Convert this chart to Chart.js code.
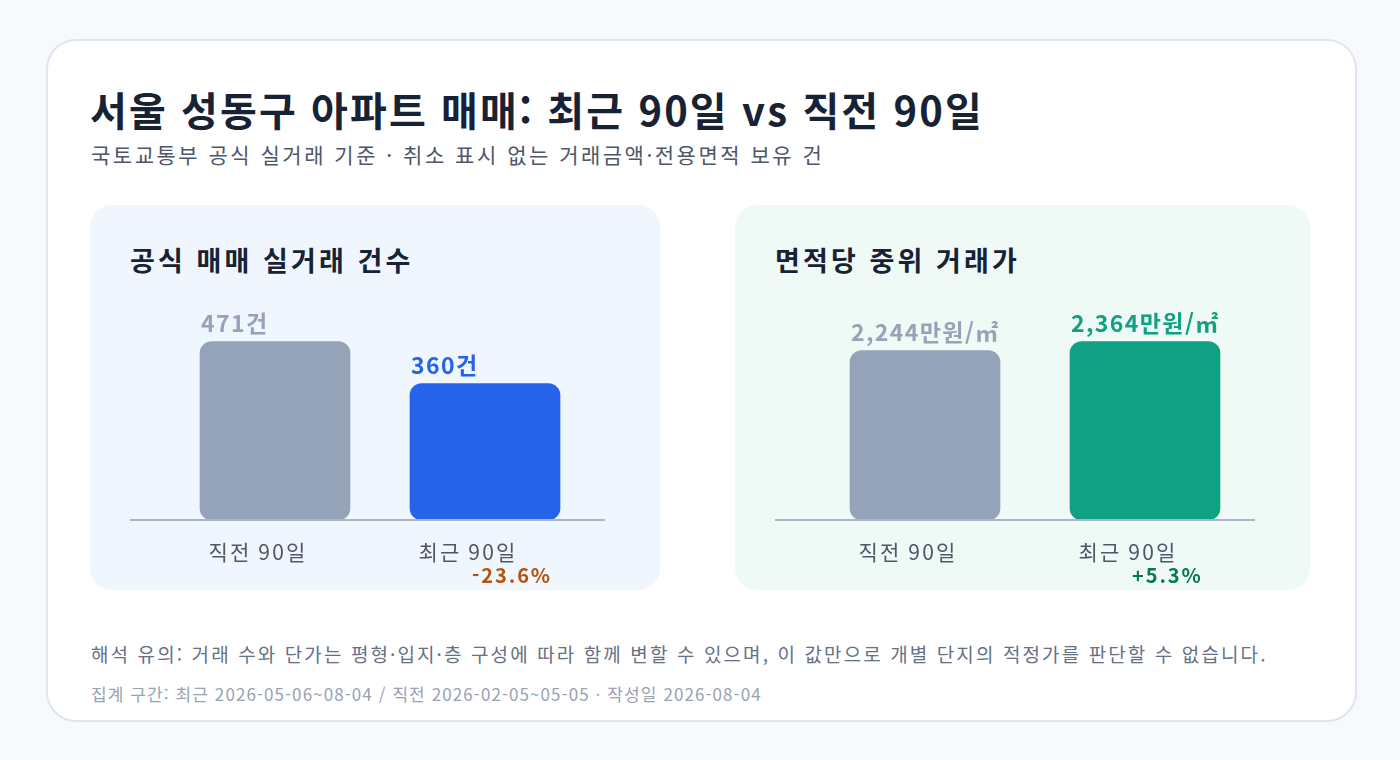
<!DOCTYPE html>
<html lang="ko">
<head>
<meta charset="utf-8">
<script src="https://cdn.jsdelivr.net/npm/chart.js@4"></script>
<style>
  body { margin: 0; background: #f7f9fc; font-family: "Noto Sans CJK KR", "Noto Sans", sans-serif; }
  .card { position: absolute; left: 46px; top: 39px; width: 1307px; height: 679px; background: #fff;
          border: 2px solid #dfe5ee; border-radius: 30px; }
  h1 { position: absolute; left: 90px; top: 80px; margin: 0; font-size: 40px; font-weight: 700; color: #182235; letter-spacing: 2.1px; }
  .sub { position: absolute; left: 91px; top: 139px; font-size: 21px; color: #4d5769; letter-spacing: 2.5px; }
  .panel { position: absolute; top: 205px; height: 385px; border-radius: 22px; }
  .panel h2 { position: absolute; left: 40px; top: 35px; margin: 0; font-size: 27px; font-weight: 700; color: #182235; letter-spacing: 3.1px; }
  .panel canvas { position: absolute; left: 0; top: 80px; }
  .note { position: absolute; left: 91px; top: 640px; font-size: 19px; color: #667085; letter-spacing: 2.1px; }
  .meta { position: absolute; left: 91px; top: 681px; font-size: 17px; color: #98a2b3; letter-spacing: 1.1px; }
</style>
</head>
<body>
<div class="card"></div>
<h1>서울 성동구 아파트 매매: 최근 90일 vs 직전 90일</h1>
<div class="sub">국토교통부 공식 실거래 기준 · 취소 표시 없는 거래금액·전용면적 보유 건</div>

<div class="panel" style="left:90px;width:570px;background:#f0f6fe;">
  <h2>공식 매매 실거래 건수</h2>
  <canvas id="countChart" width="570" height="305"></canvas>
</div>
<div class="panel" style="left:735px;width:575px;background:#effaf6;">
  <h2>면적당 중위 거래가</h2>
  <canvas id="priceChart" width="575" height="305"></canvas>
</div>

<div class="note">해석 유의: 거래 수와 단가는 평형·입지·층 구성에 따라 함께 변할 수 있으며, 이 값만으로 개별 단지의 적정가를 판단할 수 없습니다.</div>
<div class="meta">집계 구간: 최근 2026-05-06~08-04 / 직전 2026-02-05~05-05 · 작성일 2026-08-04</div>

<script>
const periods = ['직전 90일', '최근 90일']
const counts = [471, 360]
const countLabels = ['471건', '360건']
const countChange = '-23.6%'
const prices = [2244, 2364]
const priceLabels = ['2,244만원/㎡', '2,364만원/㎡']
const priceChange = '+5.3%'

const FONT = '"Noto Sans CJK KR", "Noto Sans", sans-serif'

// value labels, category labels, baseline and change text
const barText = {
  id: 'barText',
  afterDatasetsDraw(chart, args, opts) {
    const ctx = chart.ctx
    const area = chart.chartArea
    const bars = chart.getDatasetMeta(0).data
    ctx.save()
    ctx.strokeStyle = '#a9b6c9'
    ctx.lineWidth = 2
    ctx.beginPath()
    ctx.moveTo(area.left - opts.lineLeft, area.bottom)
    ctx.lineTo(area.right + opts.lineRight, area.bottom)
    ctx.stroke()

    bars.forEach((bar, i) => {
      const left = bar.x - bar.width / 2
      ctx.fillStyle = opts.valueColors[i]
      ctx.font = '700 23px ' + FONT
      ctx.letterSpacing = '1.4px'
      ctx.textAlign = 'left'
      ctx.textBaseline = 'alphabetic'
      ctx.fillText(opts.values[i], left + 1, bar.y - 10)

      ctx.fillStyle = '#4d5769'
      ctx.font = '400 21px ' + FONT
      ctx.letterSpacing = '2.2px'
      ctx.textAlign = 'center'
      ctx.textBaseline = 'middle'
      ctx.fillText(chart.data.labels[i], bar.x - 17, area.bottom + 32)
    })
    const last = bars[bars.length - 1]
    ctx.fillStyle = opts.changeColor
    ctx.font = '700 20px ' + FONT
    ctx.letterSpacing = '1.9px'
    ctx.textAlign = 'left'
    ctx.textBaseline = 'middle'
    ctx.fillText(opts.change, last.x - last.width / 2 + 62, area.bottom + 55)
    ctx.restore()
  }
}

function makeChart(id, values, colors, pad, text) {
  return new Chart(document.getElementById(id), {
    type: 'bar',
    data: {
      labels: periods,
      datasets: [{
        data: values,
        backgroundColor: colors,
        barThickness: 150,
        borderRadius: 12,
        borderSkipped: false
      }]
    },
    options: {
      responsive: false,
      animation: false,
      layout: { padding: pad },
      scales: {
        x: { display: false },
        y: { display: false, min: 0, max: Math.max(...values) * 1.25 }
      },
      plugins: {
        legend: { display: false },
        tooltip: { enabled: false },
        barText: text
      }
    },
    plugins: [barText]
  })
}

makeChart('countChart', counts, ['#94a3b8', '#2563eb'],
  { left: 80, right: 70, top: 12, bottom: 70 },
  { values: countLabels, valueColors: ['#94a3b8', '#2563eb'], change: countChange,
    changeColor: '#b45309', lineLeft: 40, lineRight: 15 })

makeChart('priceChart', prices, ['#94a3b8', '#10a082'],
  { left: 80, right: 55, top: 12, bottom: 70 },
  { values: priceLabels, valueColors: ['#94a3b8', '#10a082'], change: priceChange,
    changeColor: '#047857', lineLeft: 40, lineRight: 0 })
</script>
</body>
</html>
